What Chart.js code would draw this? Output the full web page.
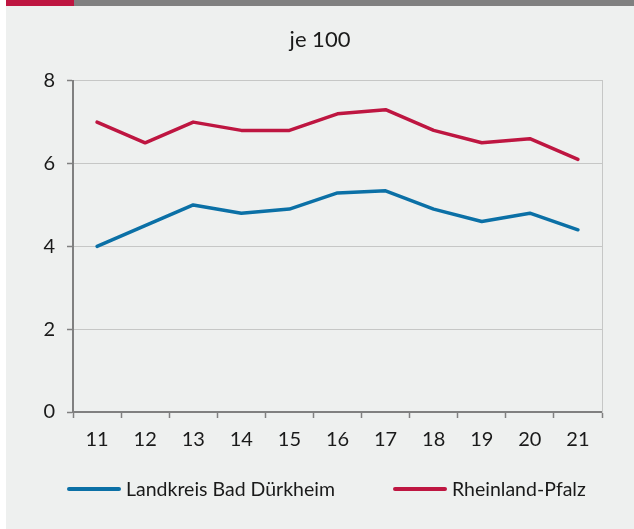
<!DOCTYPE html>
<html lang="de">
<head>
<meta charset="utf-8">
<title>je 100</title>
<script src="https://cdn.jsdelivr.net/npm/chart.js@4.4.1/dist/chart.umd.min.js"></script>
<style>
    html, body { margin: 0; padding: 0; background: #fff; }
    #panel { position: absolute; left: 6px; top: 0; width: 628px; height: 529px; background: #eef0ef; }
    #bar { position: absolute; left: 6px; top: 0; width: 628px; height: 6px; background: #808080; }
    #bar span { display: block; width: 68px; height: 6px; background: #be1641; }
    #wrap { position: absolute; left: 0; top: 0; width: 634px; height: 529px; }
    #legend { position: absolute; left: 0; top: 477px; width: 634px; height: 24px; font: 19.5px Lato, sans-serif; color: #1a1a1a; }
    .legend-item { position: absolute; top: 0; height: 24px; line-height: 24px; display: flex; align-items: center; white-space: nowrap; }
    .legend-line { width: 54px; height: 4px; border-radius: 2px; margin-right: 5px; }
</style>
</head>
<body>
<div id="panel"></div>
<div id="bar"><span></span></div>
<div id="wrap"><canvas id="chart" width="634" height="529"></canvas></div>
<div id="legend"></div>

<script>
/* === DATEN === */
const jahre = ['11', '12', '13', '14', '15', '16', '17', '18', '19', '20', '21'];
const werteKreis = [4.0, 4.5, 5.0, 4.8, 4.9, 5.29, 5.34, 4.9, 4.6, 4.8, 4.4];
const werteLand = [7.0, 6.5, 7.0, 6.8, 6.8, 7.2, 7.3, 6.8, 6.5, 6.6, 6.1];
const serienNamen = ['Landkreis Bad Dürkheim', 'Rheinland-Pfalz'];
const serienFarben = ['#0b70a6', '#be1641'];
const yMin = 0, yMax = 8, yStep = 2;

const FONT = 'Lato, sans-serif';
const TEXT_COLOR = '#1a1a1a';
const AXIS_COLOR = '#808080';
const GRID_COLOR = '#c6c7c6';

function makeDataset(label, data, color) {
    return {
        label: label,
        data: data,
        borderColor: color,
        backgroundColor: color,
        borderWidth: 3.5,
        borderCapStyle: 'round',
        borderJoinStyle: 'round',
        pointRadius: 0,
        pointHoverRadius: 0,
        tension: 0,
        fill: false
    };
}

const ctx = document.getElementById('chart').getContext('2d');
const chart = new Chart(ctx, {
    type: 'line',
    data: {
        labels: jahre,
        datasets: [
            makeDataset(serienNamen[0], werteKreis, serienFarben[0]),
            makeDataset(serienNamen[1], werteLand, serienFarben[1])
        ]
    },
    options: {
        responsive: false,
        animation: false,
        layout: { padding: { left: 6, right: 0, top: 6, bottom: 77 } },
        plugins: {
            legend: { display: false },
            tooltip: { enabled: false },
            title: {
                display: true,
                text: 'je 100',
                color: TEXT_COLOR,
                font: { family: FONT, size: 22, weight: 'normal' },
                padding: { top: 20.5, bottom: 27.8 }
            }
        },
        scales: {
            x: {
                offset: true,
                grid: {
                    offset: true,
                    drawOnChartArea: false,
                    drawTicks: true,
                    tickLength: 6,
                    tickColor: AXIS_COLOR,
                    tickWidth: 1.5
                },
                border: { color: AXIS_COLOR, width: 2 },
                ticks: {
                    color: TEXT_COLOR,
                    font: { family: FONT, size: 20 },
                    padding: 9.5,
                    maxRotation: 0
                },
                afterFit: scale => { scale.height = 40; }
            },
            y: {
                min: yMin,
                max: yMax,
                grid: {
                    color: GRID_COLOR,
                    lineWidth: 1,
                    drawTicks: true,
                    tickLength: 6,
                    tickColor: AXIS_COLOR,
                    tickWidth: 1.5
                },
                border: { color: AXIS_COLOR, width: 2 },
                ticks: {
                    stepSize: yStep,
                    color: TEXT_COLOR,
                    font: { family: FONT, size: 20 },
                    padding: 12
                },
                afterFit: scale => { scale.width = 67; }
            },
            // rechter Rahmen der Zeichenfläche, nimmt den rechten Rand ein
            yRahmen: {
                display: true,
                position: 'right',
                min: yMin,
                max: yMax,
                grid: { drawOnChartArea: false, drawTicks: false },
                border: { color: GRID_COLOR, width: 1 },
                ticks: { display: false },
                afterFit: scale => { scale.width = 32; }
            }
        }
    }
});

/* === LEGENDE === */
const legendLeft = [67, 393];
const legendEl = document.getElementById('legend');
chart.data.datasets.forEach((ds, i) => {
    const item = document.createElement('div');
    item.className = 'legend-item';
    item.style.left = legendLeft[i] + 'px';
    item.innerHTML = `<span class="legend-line" style="background:${ds.borderColor}"></span><span>${ds.label}</span>`;
    legendEl.appendChild(item);
});
</script>
</body>
</html>
